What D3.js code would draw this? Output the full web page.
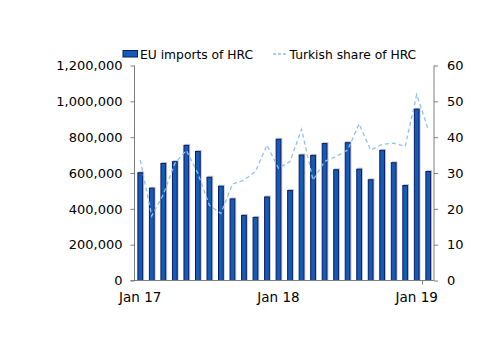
<!DOCTYPE html>
<html>
<head>
<meta charset="utf-8">
<script src="https://cdn.jsdelivr.net/npm/d3@7"></script>
<style>
  body { margin: 0; background: #fff; }
  text { font-family: "DejaVu Sans", sans-serif; fill: #000; }
</style>
</head>
<body>
<div id="chart"></div>
<script>
// months, Jan 2017 - Feb 2019
const months = ["Jan 17", "Feb 17", "Mar 17", "Apr 17", "May 17", "Jun 17", "Jul 17", "Aug 17",
    "Sep 17", "Oct 17", "Nov 17", "Dec 17", "Jan 18", "Feb 18", "Mar 18", "Apr 18", "May 18",
    "Jun 18", "Jul 18", "Aug 18", "Sep 18", "Oct 18", "Nov 18", "Dec 18", "Jan 19", "Feb 19"];

// EU imports of HRC (tonnes)
const imports = [604000, 518000, 656000, 666000, 757000, 723000, 579000, 529000, 458000, 366000,
    355000, 469000, 791000, 505000, 703000, 701000, 767000, 621000, 772000, 624000, 565000,
    729000, 660000, 533000, 959000, 611000];

// Turkish share of HRC (%)
const turkishShare = [33.6, 18.0, 24.0, 32.7, 36.3, 29.9, 21.0, 18.7, 26.9, 28.0, 30.4, 37.8,
    31.3, 33.2, 42.2, 28.0, 33.2, 34.6, 36.4, 43.7, 36.4, 38.0, 38.3, 37.4, 51.9, 42.1];

const xLabels = ["Jan 17", "Jan 18", "Jan 19"];
const leftTicks = [0, 200000, 400000, 600000, 800000, 1000000, 1200000];
const rightTicks = [0, 10, 20, 30, 40, 50, 60];

const width = 500, height = 354;
const plot = {left: 134.5, right: 434, top: 65.5, bottom: 280.5};

const svg = d3.select("#chart").append("svg")
    .attr("width", width)
    .attr("height", height);

/***** SCALES *****/
const x = d3.scaleBand()
    .domain(months)
    .range([plot.left, plot.right])
    .paddingInner(0.5)
    .paddingOuter(0.25);

const yLeft = d3.scaleLinear().domain([0, 1200000]).range([plot.bottom, plot.top]);
const yRight = d3.scaleLinear().domain([0, 60]).range([plot.bottom, plot.top]);

/***** BARS *****/
const bars = svg.append("g");
// light shadow
bars.selectAll(".shadow")
    .data(imports)
    .enter()
    .append("rect")
    .attr("x", (d, i) => x(months[i]) + 1)
    .attr("y", d => yLeft(d) - 1)
    .attr("width", x.bandwidth())
    .attr("height", d => plot.bottom - yLeft(d) + 1)
    .attr("fill", "#c8c8c8");

bars.selectAll(".bar")
    .data(imports)
    .enter()
    .append("rect")
    .attr("x", (d, i) => x(months[i]) + 0.5)
    .attr("y", d => yLeft(d) + 0.5)
    .attr("width", x.bandwidth() - 1)
    .attr("height", d => plot.bottom - yLeft(d) - 0.5)
    .attr("fill", "#145bb3")
    .attr("stroke", "#0a1c6a")
    .attr("stroke-width", 1);

/***** LINE *****/
const line = d3.line()
    .x((d, i) => x(months[i]) + x.bandwidth() / 2)
    .y(d => yRight(d));

svg.append("path")
    .datum(turkishShare)
    .attr("d", line)
    .attr("fill", "none")
    .attr("stroke", "#8fc0ee")
    .attr("stroke-width", 1.3)
    .attr("stroke-dasharray", "4,3");

/***** AXES *****/
const axisColor = "#7f7f7f";

const leftAxis = svg.append("g")
    .attr("transform", `translate(${plot.left}, 0)`)
    .call(d3.axisLeft(yLeft)
        .tickValues(leftTicks)
        .tickSize(4)
        .tickPadding(8)
        .tickFormat(d3.format(",")));

const rightAxis = svg.append("g")
    .attr("transform", `translate(${plot.right}, 0)`)
    .call(d3.axisRight(yRight)
        .tickValues(rightTicks)
        .tickSize(4)
        .tickPadding(9));

[leftAxis, rightAxis].forEach(a => {
    a.select(".domain").attr("stroke", axisColor).attr("d", null);
    a.selectAll(".tick line").attr("stroke", axisColor);
    a.selectAll("text").attr("font-size", 13).attr("font-family", "DejaVu Sans");
});
leftAxis.select(".domain")
    .attr("d", `M0,${plot.top}V${plot.bottom}`);
rightAxis.select(".domain")
    .attr("d", `M0,${plot.top}V${plot.bottom}`);

// bottom axis
const bottomAxis = svg.append("g")
    .attr("transform", `translate(0, ${plot.bottom})`);
bottomAxis.append("line")
    .attr("x1", plot.left - 4).attr("x2", plot.right)
    .attr("stroke", axisColor);
bottomAxis.append("line")
    .attr("x1", x("Jan 19") + x.step() / 2 + x.bandwidth() / 2)
    .attr("x2", x("Jan 19") + x.step() / 2 + x.bandwidth() / 2)
    .attr("y1", 0).attr("y2", 4)
    .attr("stroke", axisColor);
bottomAxis.selectAll(".xLabel")
    .data(xLabels)
    .enter()
    .append("text")
    .attr("x", d => x(d) + x.bandwidth() / 2)
    .attr("y", 21.5)
    .attr("text-anchor", "middle")
    .attr("font-size", 13.5)
    .text(d => d);

/***** LEGEND *****/
const legend = svg.append("g");
legend.append("rect")
    .attr("x", 123).attr("y", 50.5)
    .attr("width", 14.5).attr("height", 6.5)
    .attr("fill", "#145bb3")
    .attr("stroke", "#0a1c6a")
    .attr("stroke-width", 1);
legend.append("text")
    .attr("x", 140).attr("y", 58.5)
    .attr("font-size", 12.3)
    .text("EU imports of HRC");
legend.append("line")
    .attr("x1", 273).attr("x2", 288)
    .attr("y1", 54).attr("y2", 54)
    .attr("stroke", "#8fc0ee")
    .attr("stroke-width", 1.3)
    .attr("stroke-dasharray", "3,2");
legend.append("text")
    .attr("x", 289.5).attr("y", 58.5)
    .attr("font-size", 12.3)
    .text("Turkish share of HRC");
</script>
</body>
</html>
